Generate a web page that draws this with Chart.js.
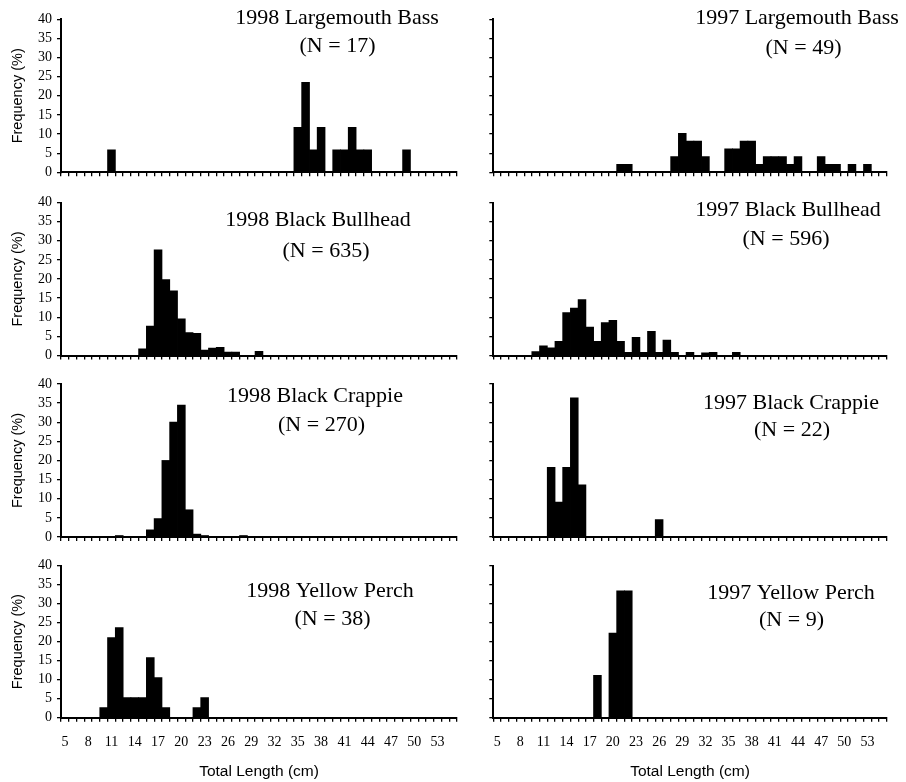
<!DOCTYPE html>
<html>
<head>
<meta charset="utf-8">
<script src="https://cdn.jsdelivr.net/npm/chart.js@4/dist/chart.umd.min.js"></script>
<style>
  html, body { margin: 0; padding: 0; background: #fff; }
  #fig { position: relative; width: 906px; height: 782px; overflow: hidden; background: #fff; }
  #fig canvas { position: absolute; }
</style>
</head>
<body>
<div id="fig"></div>
<script>
// Length classes (cm), one bar per 1-cm class
const lengthCategories = ['5','6','7','8','9','10','11','12','13','14','15','16','17','18','19','20',
  '21','22','23','24','25','26','27','28','29','30','31','32','33','34','35','36','37','38','39','40',
  '41','42','43','44','45','46','47','48','49','50','51','52','53','54','55'];

// Labelled length classes on the x axis
const lengthTickLabels = ['5','8','11','14','17','20','23','26','29','32','35','38','41','44','47','50','53'];

const frequencyTicks = [0, 5, 10, 15, 20, 25, 30, 35, 40];

const speciesNames = ['Largemouth Bass', 'Black Bullhead', 'Black Crappie', 'Yellow Perch'];
const sampleSizes1998 = [17, 635, 270, 38];
const sampleSizes1997 = [49, 596, 22, 9];

// Length-frequency (%) for each 1-cm class, 5 cm .. 55 cm
const bass1998 = [
  0, 0, 0, 0, 0, 0, 5.88, 0, 0, 0,
  0, 0, 0, 0, 0, 0, 0, 0, 0, 0,
  0, 0, 0, 0, 0, 0, 0, 0, 0, 0,
  11.76, 23.53, 5.88, 11.76, 0, 5.88, 5.88, 11.76, 5.88, 5.88,
  0, 0, 0, 0, 5.88, 0, 0, 0, 0, 0,
  0];
const bass1997 = [
  0, 0, 0, 0, 0, 0, 0, 0, 0, 0,
  0, 0, 0, 0, 0, 0, 2.04, 2.04, 0, 0,
  0, 0, 0, 4.08, 10.2, 8.16, 8.16, 4.08, 0, 0,
  6.12, 6.12, 8.16, 8.16, 2.04, 4.08, 4.08, 4.08, 2.04, 4.08,
  0, 0, 4.08, 2.04, 2.04, 0, 2.04, 0, 2.04, 0,
  0];
const bullhead1998 = [
  0, 0, 0, 0, 0, 0, 0, 0, 0, 0,
  1.7, 7.7, 27.6, 19.8, 16.9, 9.6, 6.0, 5.8, 1.4, 1.9,
  2.1, 0.9, 0.9, 0, 0, 1.1, 0, 0, 0, 0,
  0, 0, 0, 0, 0, 0, 0, 0, 0, 0,
  0, 0, 0, 0, 0, 0, 0, 0, 0, 0,
  0];
const bullhead1997 = [
  0, 0, 0, 0, 0, 1.0, 2.5, 2.0, 3.7, 11.2,
  12.4, 14.6, 7.4, 3.7, 8.6, 9.2, 3.7, 0.8, 4.7, 0.8,
  6.3, 0.8, 4.0, 0.8, 0, 0.8, 0, 0.7, 0.8, 0,
  0, 0.8, 0, 0, 0, 0, 0, 0, 0, 0,
  0, 0, 0, 0, 0, 0, 0, 0, 0, 0,
  0];
const crappie1998 = [
  0, 0, 0, 0, 0, 0, 0, 0.37, 0, 0,
  0, 1.85, 4.8, 20.0, 30.0, 34.5, 7.1, 0.74, 0.37, 0,
  0, 0, 0, 0.37, 0, 0, 0, 0, 0, 0,
  0, 0, 0, 0, 0, 0, 0, 0, 0, 0,
  0, 0, 0, 0, 0, 0, 0, 0, 0, 0,
  0];
const crappie1997 = [
  0, 0, 0, 0, 0, 0, 0, 18.18, 9.09, 18.18,
  36.36, 13.64, 0, 0, 0, 0, 0, 0, 0, 0,
  0, 4.55, 0, 0, 0, 0, 0, 0, 0, 0,
  0, 0, 0, 0, 0, 0, 0, 0, 0, 0,
  0, 0, 0, 0, 0, 0, 0, 0, 0, 0,
  0];
const perch1998 = [
  0, 0, 0, 0, 0, 2.63, 21.05, 23.68, 5.26, 5.26,
  5.26, 15.79, 10.53, 2.63, 0, 0, 0, 2.63, 5.26, 0,
  0, 0, 0, 0, 0, 0, 0, 0, 0, 0,
  0, 0, 0, 0, 0, 0, 0, 0, 0, 0,
  0, 0, 0, 0, 0, 0, 0, 0, 0, 0,
  0];
const perch1997 = [
  0, 0, 0, 0, 0, 0, 0, 0, 0, 0,
  0, 0, 0, 11.11, 0, 22.22, 33.33, 33.33, 0, 0,
  0, 0, 0, 0, 0, 0, 0, 0, 0, 0,
  0, 0, 0, 0, 0, 0, 0, 0, 0, 0,
  0, 0, 0, 0, 0, 0, 0, 0, 0, 0,
  0];

// ---- page layout (pixels); canvases overlap and are transparent ----
const columnBoxes = [
  { left: 0,   width: 480, plotLeft: 61,    plotRight: 457 },
  { left: 440, width: 466, plotLeft: 493.3, plotRight: 886.7 }
];
const rowBoxes = [
  { top: 0,   height: 194, plotTop: 19.3,  plotBottom: 172.3 },
  { top: 180, height: 196, plotTop: 202.5, plotBottom: 355.5 },
  { top: 362, height: 196, plotTop: 384,   plotBottom: 537 },
  { top: 544, height: 238, plotTop: 565.5, plotBottom: 717.7 }
];
// centre of each heading line, per panel [row][col]
const headingAnchors = [
  [ [[337, 18], [337.5, 46]],  [[797, 18], [803.5, 48]] ],
  [ [[318, 220], [326, 251]],  [[788, 210], [786, 239]] ],
  [ [[315, 396], [321.5, 425]], [[791, 403], [792, 430]] ],
  [ [[330, 591], [332.5, 619]], [[791, 593], [791.5, 620]] ]
];

const serif = '"Liberation Serif", "Times New Roman", serif';
const sans = '"Liberation Sans", Arial, sans-serif';

const panelHeading = {
  id: 'panelHeading',
  afterDraw(chart, args, opts) {
    const ctx = chart.ctx;
    ctx.save();
    ctx.fillStyle = '#000';
    ctx.font = '22px ' + serif;
    ctx.textAlign = 'center';
    ctx.textBaseline = 'middle';
    opts.lines.forEach(l => ctx.fillText(l.text, l.x, l.y));
    ctx.restore();
  }
};

function drawPanel(row, col, values, year, species, n) {
  const r = rowBoxes[row], c = columnBoxes[col];
  const isLeft = col === 0, isBottom = row === rowBoxes.length - 1;
  const canvas = document.createElement('canvas');
  canvas.width = c.width; canvas.height = r.height;
  canvas.style.left = c.left + 'px'; canvas.style.top = r.top + 'px';
  canvas.style.width = c.width + 'px'; canvas.style.height = r.height + 'px';
  document.getElementById('fig').appendChild(canvas);

  const anchors = headingAnchors[row][col];
  const lines = [
    { text: year + ' ' + species, x: anchors[0][0] - c.left, y: anchors[0][1] - r.top },
    { text: '(N = ' + n + ')',    x: anchors[1][0] - c.left, y: anchors[1][1] - r.top }
  ];

  new Chart(canvas, {
    type: 'bar',
    data: {
      labels: lengthCategories,
      datasets: [{
        data: values,
        backgroundColor: '#000',
        borderWidth: 0,
        barPercentage: 1,
        categoryPercentage: 1,
        inflateAmount: 0.4
      }]
    },
    options: {
      responsive: false,
      animation: false,
      events: [],
      layout: { padding: { top: r.plotTop - r.top, right: c.left + c.width - c.plotRight, left: 0, bottom: 0 } },
      plugins: {
        legend: { display: false },
        tooltip: { enabled: false },
        panelHeading: { lines }
      },
      scales: {
        x: {
          offset: true,
          grid: { display: true, offset: true, drawOnChartArea: false, drawTicks: true, tickLength: 4, color: '#000', lineWidth: 1.3 },
          border: { display: true, color: '#000', width: 2 },
          ticks: {
            display: isBottom, autoSkip: false, maxRotation: 0, minRotation: 0, padding: 12,
            color: '#000', font: { family: serif, size: 14 },
            callback: (v, i) => lengthTickLabels.includes(lengthCategories[i]) ? lengthCategories[i] : ''
          },
          title: {
            display: isBottom, text: 'Total Length (cm)', color: '#000',
            font: { family: sans, size: 15.5 }, padding: { top: 0, bottom: 0.7 }
          },
          afterFit: s => { s.height = r.top + r.height - r.plotBottom; }
        },
        y: {
          min: frequencyTicks[0], max: frequencyTicks[frequencyTicks.length - 1],
          afterBuildTicks: s => { s.ticks = frequencyTicks.map(v => ({ value: v })); },
          grid: { display: true, drawOnChartArea: false, drawTicks: true, tickLength: 4, color: '#000', lineWidth: 1.3 },
          border: { display: true, color: '#000', width: 2 },
          ticks: { display: isLeft, autoSkip: false, padding: 5, color: '#000', font: { family: serif, size: 14 } },
          title: {
            display: isLeft, text: 'Frequency (%)', color: '#000',
            font: { family: sans, size: 14.5 }, padding: { top: 8.8, bottom: 0 }
          },
          afterFit: s => { s.width = c.plotLeft - c.left; }
        }
      }
    },
    plugins: [panelHeading]
  });
}

const series1998 = [bass1998, bullhead1998, crappie1998, perch1998];
const series1997 = [bass1997, bullhead1997, crappie1997, perch1997];
speciesNames.forEach((sp, i) => {
  drawPanel(i, 0, series1998[i], '1998', sp, sampleSizes1998[i]);
  drawPanel(i, 1, series1997[i], '1997', sp, sampleSizes1997[i]);
});
</script>
</body>
</html>
